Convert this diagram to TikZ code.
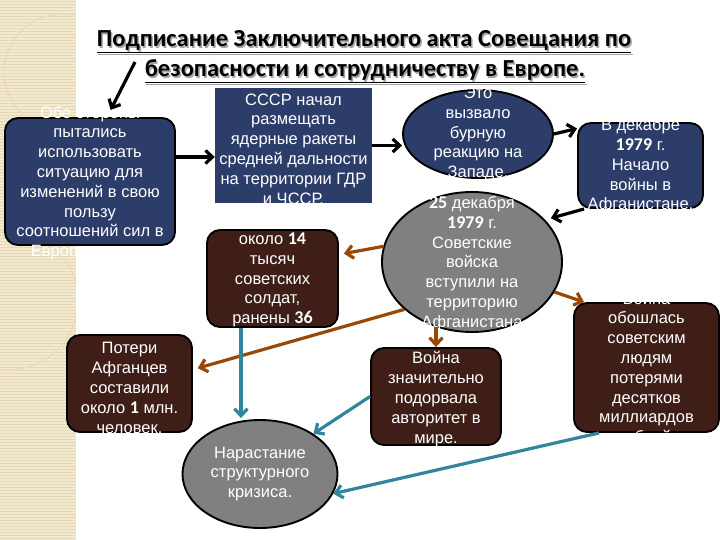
\documentclass[tikz,border=0pt]{standalone}
\usepackage{fontspec}
\setmainfont{Liberation Sans}
\newfontfamily\ttlfont{Carlito}
\usetikzlibrary{shapes.geometric,arrows.meta,calc}
\definecolor{nblue}{RGB}{44,61,106}
\definecolor{nbrown}{RGB}{62,30,22}
\definecolor{ngray}{RGB}{128,128,128}
\definecolor{abrown}{RGB}{152,72,7}
\definecolor{ateal}{RGB}{49,133,156}
\definecolor{beige}{RGB}{242,233,206}
\definecolor{beigeline}{RGB}{228,216,182}
\definecolor{beigearc}{RGB}{232,220,190}
\definecolor{tshadow}{RGB}{165,165,165}
\newcommand{\dg}[1]{{\ttlfont\bfseries\fontsize{18}{19.8}\selectfont #1}}
\begin{document}
\begin{tikzpicture}[x=1pt,y=-1pt,
  box/.style={draw=black, line width=1.9pt, rounded corners=13pt, inner sep=0pt},
  bluebox/.style={box, fill=nblue},
  brownbox/.style={box, fill=nbrown},
  bluerect/.style={draw=none, fill=nblue, inner sep=0pt},
  blueell/.style={ellipse, draw=black, line width=1.9pt, fill=nblue, inner sep=0pt},
  grayell/.style={ellipse, draw=black, line width=1.9pt, fill=ngray, inner sep=0pt},
  txt/.style={text=white, align=center, inner sep=0pt, font=\fontsize{16.5}{19.8}\selectfont},
  ttl/.style={anchor=base, inner sep=0pt, font=\ttlfont\bfseries\fontsize{24.5}{28}\selectfont},
  blk/.style={draw=black, line width=3.2pt, -{Straight Barb[length=7pt,width=13pt]}},
  brn/.style={draw=abrown, line width=3.2pt, -{Straight Barb[length=7pt,width=13pt]}},
  tea/.style={draw=ateal, line width=3.2pt, -{Straight Barb[length=7pt,width=13pt]}}
]
\useasboundingbox (0,0) rectangle (720,540);
\fill[white] (0,0) rectangle (720,540);
% left decorative stripe
\fill[beige] (0,0) rectangle (76,540);
\foreach \i in {1,4,...,540} \draw[beigeline, line width=0.5pt] (0,\i) -- (76,\i);
\begin{scope}
  \clip (0,0) rectangle (76,540);
  \draw[beigearc, line width=1.4pt] (62,72) circle (58);
  \draw[beigearc, line width=1.4pt] (8,300) circle (70);
\end{scope}

% title
\node[ttl, text=tshadow] (ts1) at (365.5,48.5) {\underline{Подписание Заключительного акта Совещания по}};
\node[ttl, text=tshadow] (ts2) at (366.5,78.5) {\underline{безопасности и сотрудничеству в Европе.}};
\node[ttl] (tl1) at (364,47) {\underline{Подписание Заключительного акта Совещания по}};
\node[ttl] (tl2) at (365,77) {\underline{безопасности и сотрудничеству в Европе.}};
\coordinate (tarr) at (135,62);

% shapes
\node[bluebox, minimum width=170pt, minimum height=127pt] (n1) at (90,181.5) {};
\node[bluerect, minimum width=157pt, minimum height=115pt] (n2) at (293.5,145.5) {};
\node[blueell, minimum width=150pt, minimum height=88pt] (n3) at (478,134) {};
\node[bluebox, minimum width=125pt, minimum height=85pt] (n4) at (640.5,165.5) {};
\node[grayell, minimum width=180pt, minimum height=140pt] (n5) at (472,262) {};
\node[brownbox, minimum width=131pt, minimum height=97pt] (n6) at (272.5,278.5) {};
\node[brownbox, minimum width=125pt, minimum height=97pt] (n7) at (129.5,383.5) {};
\node[brownbox, minimum width=130pt, minimum height=97pt] (n8) at (436,396.5) {};
\node[brownbox, minimum width=145pt, minimum height=129pt] (n9) at (646.5,367.5) {};
\node[grayell, minimum width=155pt, minimum height=108pt] (n10) at (260,474) {};

% texts
\node[txt] (x1) at (90,183) {Обе стороны\\пытались\\использовать\\ситуацию для\\изменений в свою\\пользу\\соотношений сил в\\Европе и мире.};
\node[txt] (x2) at (293.5,149) {СССР начал\\размещать\\ядерные ракеты\\средней дальности\\на территории ГДР\\и ЧССР.};
\node[txt] (x3) at (478,134) {Это\\вызвало\\бурную\\реакцию на\\Западе.};
\node[txt] (x4) at (640.5,166) {В декабре\\\dg{1979} г.\\Начало\\войны в\\Афганистане.};
\node[txt] (x5) at (472,263.5) {\dg{25} декабря\\\dg{1979} г.\\Советские\\войска\\вступили на\\территорию\\Афганистана};
\node[txt] (x6) at (272.5,280) {около \dg{14}\\тысяч\\советских\\солдат,\\ранены \dg{36}};
\node[txt] (x7) at (129.5,388) {Потери\\Афганцев\\составили\\около \dg{1} млн.\\человек.};
\node[txt] (x8) at (436,399) {Война\\значительно\\подорвала\\авторитет в\\мире.};
\node[txt] (x9) at (646.5,369) {Война\\обошлась\\советским\\людям\\потерями\\десятков\\миллиардов\\рублей.};
\node[txt] (x10) at (260,474) {Нарастание\\структурного\\кризиса.};

% black connectors
\draw[blk, shorten >=8pt] (tarr) -- ([xshift=17pt]n1.north);
\draw[blk] ([yshift=24.5pt]n1.east) -- ([yshift=24.5pt]n1.east -| n2.west);
\draw[blk] (n2.east) -- (n3.west |- n2.east);
\draw[blk] (n3.east) -- ([yshift=37pt]n4.west);
\draw[blk, shorten >=6pt] ([xshift=7pt]n4.south west) -- (n5.30);

% brown connectors
\draw[brn, shorten >=5pt] (n5.170) -- ([yshift=24pt]n6.east);
\draw[brn, shorten >=5pt] (n5.215) -- ([yshift=14pt]n7.east);
\draw[brn] ([yshift=6pt]n8.north |- n5.south) -- (n8.north);
\draw[brn] (n5.340) -- ([xshift=11pt]n9.north west);

% teal connectors
\draw[tea] ([xshift=-19pt]n10.north |- n6.south) -- ([xshift=-19pt,yshift=1pt]n10.north);
\draw[tea] (n8.west) -- (n10.37);
\draw[tea] ([xshift=26pt]n9.south west) -- (n10.345);
\end{tikzpicture}
\end{document}
